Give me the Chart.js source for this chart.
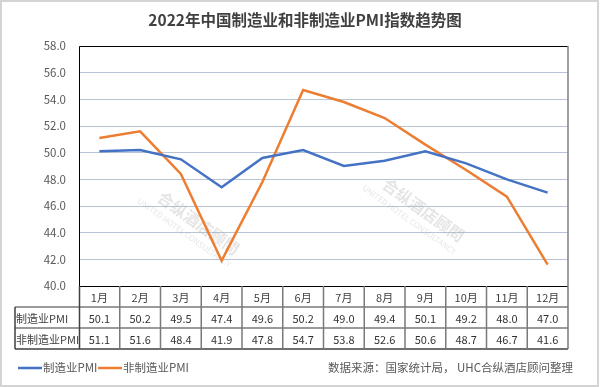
<!DOCTYPE html>
<html>
<head>
<meta charset="utf-8">
<script src="https://cdn.jsdelivr.net/npm/chart.js@4"></script>
<style>
html,body{margin:0;padding:0;background:#fff;}
canvas{display:block;}
</style>
</head>
<body>
<canvas id="c" width="601" height="387"></canvas>
<script>
const months = ['1月','2月','3月','4月','5月','6月','7月','8月','9月','10月','11月','12月'];
const mfgPMI = [50.1, 50.2, 49.5, 47.4, 49.6, 50.2, 49.0, 49.4, 50.1, 49.2, 48.0, 47.0];
const nonMfgPMI = [51.1, 51.6, 48.4, 41.9, 47.8, 54.7, 53.8, 52.6, 50.6, 48.7, 46.7, 41.6];
const seriesNames = ['制造业PMI', '非制造业PMI'];
const titleText = '2022年中国制造业和非制造业PMI指数趋势图';
const sourceText = '数据来源：国家统计局， UHC合纵酒店顾问整理';
const yMin = 40, yMax = 58, yStep = 2;

const FONT = '"Microsoft YaHei","Noto Sans CJK SC","Noto Sans",sans-serif';
const colors = ['#4472c4', '#ed7d31'];

const decor = {
  id: 'decor',
  beforeDatasetsDraw(chart) {
    const ctx = chart.ctx;
    // watermark
    ctx.save();
    ctx.fillStyle = 'rgba(170,170,170,0.30)';
    [[195, 228], [420, 215]].forEach(([x, y]) => {
      ctx.save();
      ctx.translate(x, y);
      ctx.rotate(0.62);
      ctx.textAlign = 'center';
      ctx.font = 'bold 16px ' + FONT;
      ctx.fillText('合纵酒店顾問', 0, 0);
      ctx.font = '8px ' + FONT;
      ctx.fillText('UNITED HOTEL CONSULTANCY', -6, 13);
      ctx.restore();
    });
    ctx.restore();
  },
  afterDraw(chart) {
    const ctx = chart.ctx;
    const a = chart.chartArea;
    const xs = chart.scales.x;
    ctx.save();
    // outer frame
    ctx.strokeStyle = '#d4d4d4';
    ctx.lineWidth = 2;
    ctx.strokeRect(1, 1, 597, 385);
    // title
    ctx.fillStyle = '#404040';
    ctx.font = 'bold 15.5px ' + FONT;
    ctx.textAlign = 'center';
    ctx.textBaseline = 'middle';
    ctx.fillText(titleText, 305, 20);
    // plot border
    ctx.strokeStyle = '#000';
    ctx.lineWidth = 1;
    ctx.beginPath();
    ctx.moveTo(a.left + 0.5, a.bottom);
    ctx.lineTo(a.left + 0.5, a.top + 0.5);
    ctx.lineTo(a.right, a.top + 0.5);
    ctx.stroke();
    ctx.strokeStyle = '#7f7f7f';
    ctx.lineWidth = 1.5;
    ctx.beginPath();
    ctx.moveTo(a.right, a.top);
    ctx.lineTo(a.right, a.bottom);
    ctx.stroke();
    // table
    const colW = (a.right - a.left) / months.length;
    const r0 = a.bottom, r1 = r0 + 21, r2 = r1 + 21, r3 = r2 + 21;
    const tl = 15;
    ctx.strokeStyle = '#000';
    ctx.lineWidth = 1;
    ctx.beginPath();
    ctx.moveTo(a.left, r0 + 0.5); ctx.lineTo(a.right, r0 + 0.5);
    ctx.stroke();
    ctx.strokeStyle = '#7a7a7a';
    ctx.lineWidth = 1.5;
    ctx.beginPath();
    ctx.moveTo(tl, r1); ctx.lineTo(a.right, r1);
    ctx.moveTo(tl, r2); ctx.lineTo(a.right, r2);
    ctx.stroke();
    ctx.strokeStyle = '#404040';
    ctx.beginPath();
    ctx.moveTo(tl, r3); ctx.lineTo(a.right, r3);
    ctx.moveTo(tl, r1); ctx.lineTo(tl, r3);
    ctx.moveTo(a.left + 0.5, r0); ctx.lineTo(a.left + 0.5, r3);
    ctx.stroke();
    ctx.strokeStyle = '#7a7a7a';
    ctx.beginPath();
    for (let i = 1; i <= months.length; i++) {
      const x = a.left + colW * i;
      ctx.moveTo(x, r0); ctx.lineTo(x, r3);
    }
    ctx.stroke();
    ctx.font = '11px ' + FONT;
    ctx.textAlign = 'center';
    ctx.textBaseline = 'middle';
    months.forEach((m, i) => {
      const x = xs.getPixelForValue(i);
      ctx.fillStyle = '#404040';
      ctx.fillText(m, x, (r0 + r1) / 2 + 1);
      ctx.fillStyle = '#333333';
      ctx.fillText(mfgPMI[i].toFixed(1), x, (r1 + r2) / 2 + 1);
      ctx.fillText(nonMfgPMI[i].toFixed(1), x, (r2 + r3) / 2 + 1);
    });
    ctx.textAlign = 'left';
    ctx.fillStyle = '#404040';
    ctx.fillText(seriesNames[0], tl + 1, (r1 + r2) / 2 + 1);
    ctx.fillText(seriesNames[1], tl + 1, (r2 + r3) / 2 + 1);
    // legend
    const ly = 368;
    ctx.font = '11.5px ' + FONT;
    [[18, 0], [98, 1]].forEach(([x, k]) => {
      ctx.strokeStyle = colors[k];
      ctx.lineWidth = 2.5;
      ctx.beginPath();
      ctx.moveTo(x, ly); ctx.lineTo(x + 24, ly);
      ctx.stroke();
      ctx.fillStyle = '#595959';
      ctx.fillText(seriesNames[k], x + 25, ly);
    });
    // source
    ctx.textAlign = 'right';
    ctx.fillStyle = '#595959';
    ctx.fillText(sourceText, 573, ly);
    ctx.restore();
  }
};

new Chart(document.getElementById('c'), {
  type: 'line',
  data: {
    labels: months,
    datasets: [
      { label: seriesNames[0], data: mfgPMI, borderColor: colors[0], backgroundColor: colors[0], borderWidth: 2.5, pointRadius: 0, tension: 0 },
      { label: seriesNames[1], data: nonMfgPMI, borderColor: colors[1], backgroundColor: colors[1], borderWidth: 2.5, pointRadius: 0, tension: 0 }
    ]
  },
  options: {
    responsive: false,
    devicePixelRatio: 1,
    animation: false,
    layout: { padding: { left: 0, right: 33, top: 46, bottom: 101 } },
    plugins: { legend: { display: false }, title: { display: false }, tooltip: { enabled: false } },
    scales: {
      x: { display: false, offset: true },
      y: {
        min: yMin, max: yMax,
        border: { display: false },
        grid: { color: '#b8c4d6', lineWidth: 1, drawTicks: false },
        ticks: {
          stepSize: yStep, padding: 13, color: '#595959',
          font: { size: 11.5, family: FONT },
          callback: v => v.toFixed(1)
        },
        afterFit(scale) { scale.width = 79; }
      }
    }
  },
  plugins: [decor]
});
</script>
</body>
</html>
